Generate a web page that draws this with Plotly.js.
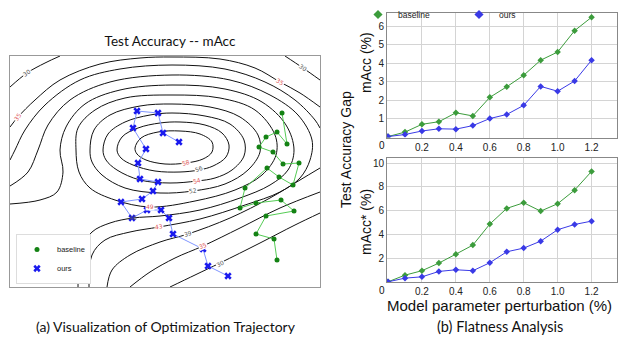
<!DOCTYPE html>
<html><head><meta charset="utf-8">
<script src="https://cdn.plot.ly/plotly-3.0.1.min.js"></script>
<style>html,body{margin:0;padding:0;background:#fff;overflow:hidden;width:621px;height:347px}#chart{width:621px;height:347px;overflow:hidden}</style>
</head><body><div id="chart"></div>
<script>
// ---------------- (b) Flatness analysis data ----------------
const perturbation = [0, 0.1, 0.2, 0.3, 0.4, 0.5, 0.6, 0.7, 0.8, 0.9, 1.0, 1.1, 1.2];
const mAccBaseline = [0.05, 0.29, 0.71, 0.85, 1.33, 1.16, 2.16, 2.73, 3.35, 4.16, 4.6, 5.75, 6.47];
const mAccOurs     = [0.05, 0.16, 0.35, 0.47, 0.45, 0.64, 1.02, 1.24, 1.73, 2.75, 2.49, 3.04, 4.16];
const mAccStarBaseline = [0.04, 0.6, 0.97, 1.61, 2.36, 3.12, 4.88, 6.2, 6.67, 5.97, 6.59, 7.73, 9.3];
const mAccStarOurs     = [0.04, 0.35, 0.46, 0.91, 1.05, 0.97, 1.64, 2.56, 2.87, 3.45, 4.41, 4.85, 5.13];
const xTicks = [0.2, 0.4, 0.6, 0.8, 1.0, 1.2];
const xTickText = ['0.2', '0.4', '0.6', '0.8', '1.0', '1.2'];
const yTicksTop = [1, 2, 3, 4, 5, 6];
const yTicksBottom = [2, 4, 6, 8, 10];

// ---------------- (a) Landscape: contour lines (plot units) ----------------
const contour58 = [[135,148],[141,138],[158,132],[180,131],[200,134],[212,142],[212,152],[203,159],[186,163],[165,164],[146,160],[137,154],[135,148]];
const contour56 = [[117,150],[122,137],[138,128],[160,123],[180,122],[205,125],[222,133],[229,145],[226,157],[213,166],[199,170],[180,172],[155,171],[133,165],[121,158],[117,150]];
const contour54 = [[103,150],[108,134],[125,122],[150,115],[172,113],[205,116],[230,124],[244,140],[244,156],[232,170],[215,178],[197,181],[170,183],[140,180],[117,170],[106,160],[103,150]];
const contour52 = [[90,150],[94,130],[110,115],[140,106],[172,104],[210,107],[240,117],[258,135],[260,152],[248,170],[225,184],[193,191],[160,193],[125,188],[102,175],[92,162],[90,150]];
const contour49 = [[76,150],[78,128],[95,110],[125,98],[172,95],[220,98],[255,110],[275,135],[276,155],[262,175],[235,190],[195,201],[150,207],[115,200],[90,188],[79,172],[76,150]];
const contour46 = [[10,204],[40,200],[57,192],[63,172],[60,150],[66,127],[85,104],[120,90],[172,85],[225,89],[262,102],[286,125],[294,150],[288,170],[270,185],[240,198],[200,210],[160,216],[133,218],[110,223],[92,232],[81,250],[78,287]];
const contour43 = [[10,186],[28,172],[38,150],[48,125],[70,100],[110,82],[172,75],[230,80],[270,95],[298,115],[312,140],[310,160],[300,178],[280,192],[245,205],[200,219],[159,227],[130,232],[105,240],[92,255],[89,287]];
const contour39Top = [[10,160],[15,150],[25,130],[45,105],[80,80],[120,69],[172,65],[225,69],[265,82],[295,100],[315,120],[320,128]];
const contour39Bottom = [[320,168],[300,180],[270,198],[230,218],[188,234],[160,242],[130,255],[112,270],[107,287]];
const contour35Top = [[10,127],[18,117],[35,100],[60,80],[100,64],[140,58],[172,57],[220,59],[255,68],[280,82],[300,93],[320,107]];
const contour35Bottom = [[320,192],[280,208],[240,228],[203,246],[175,258],[150,272],[130,287]];
const contour30Left = [[10,87],[27,73],[45,63],[60,56]];
const contour30Right = [[285,56],[303,68],[320,80]];
const contour30Bottom = [[320,213],[295,225],[260,243],[220,263],[195,275],[170,287]];
const contourLines = [contour58, contour56, contour54, contour52, contour49, contour46, contour43,
  contour39Top, contour39Bottom, contour35Top, contour35Bottom, contour30Left, contour30Right, contour30Bottom];

const contourLabelText  = ['30', '35', '30', '35', '58', '56', '54', '52', '49', '46', '43', '39', '35', '30'];
const contourLabelX     = [27, 18, 303, 280, 186, 199, 197, 193, 150, 133, 159, 188, 203, 220];
const contourLabelY     = [73, 117, 68, 82, 163, 169, 181, 191, 207, 218, 227, 234, 246, 263];
const contourLabelAngle = [-35, -55, 35, 30, -15, -20, -15, -8, 0, 0, -8, -15, -22, -25];
const redLevels = ['58', '54', '49', '43', '35'];

// optimisation trajectories (plot units)
const oursTrajX = [228, 208, 203, 173, 169, 161, 147, 132, 121, 142, 153, 158, 140, 138, 146, 133, 137, 158, 163, 179];
const oursTrajY = [276, 266, 249, 234, 218, 210, 210, 218, 202, 199, 191, 182, 179, 163, 149, 128, 111, 113, 133, 142];
const baselineTrajX = [277, 274, 256, 266, 294, 281, 256, 240, 245, 267, 279, 293, 299, 283, 273, 259, 266, 277, 287, 282];
const baselineTrajY = [260, 239, 234, 216, 211, 200, 203, 208, 188, 168, 177, 185, 163, 164, 152, 147, 137, 132, 144, 113];

// ---------------- layout helpers ----------------
const W = 621, H = 347;
const fx = p => p / W;
const fy = p => 1 - p / H;

const traces = [];
contourLines.forEach(pts => {
  traces.push({
    type: 'scatter', mode: 'lines', xaxis: 'x', yaxis: 'y',
    x: pts.map(p => p[0]), y: pts.map(p => p[1]),
    line: {color: '#111', width: 1, shape: 'spline', smoothing: 1},
    hoverinfo: 'skip', showlegend: false
  });
});
// trajectories
traces.push({type: 'scatter', mode: 'lines', xaxis: 'x', yaxis: 'y', x: baselineTrajX, y: baselineTrajY,
  line: {color: '#55cc55', width: 1}, showlegend: false, hoverinfo: 'skip'});
traces.push({type: 'scatter', mode: 'lines', xaxis: 'x', yaxis: 'y', x: oursTrajX, y: oursTrajY,
  line: {color: '#7f95ff', width: 1}, showlegend: false, hoverinfo: 'skip'});
traces.push({type: 'scatter', mode: 'markers', name: 'baseline', xaxis: 'x', yaxis: 'y', x: baselineTrajX, y: baselineTrajY,
  marker: {symbol: 'circle', size: 5, color: '#148214'}, legend: 'legend'});
traces.push({type: 'scatter', mode: 'markers', name: 'ours', xaxis: 'x', yaxis: 'y', x: oursTrajX, y: oursTrajY,
  marker: {symbol: 'x', size: 6.5, color: '#1a1aee'}, legend: 'legend'});

// right panels
const green = '#3c9c3c', blue = '#3a3ae6';
[['x2','y2',mAccBaseline,mAccOurs],['x3','y3',mAccStarBaseline,mAccStarOurs]].forEach((s, i) => {
  traces.push({type:'scatter', mode:'lines+markers', xaxis:s[0], yaxis:s[1], x: perturbation, y: s[2],
    line:{color: green, width: 1}, marker:{symbol:'diamond', size:5, color: green}, showlegend:false});
  traces.push({type:'scatter', mode:'lines+markers', xaxis:s[0], yaxis:s[1], x: perturbation, y: s[3],
    line:{color: blue, width: 1}, marker:{symbol:'diamond', size:5, color: blue}, showlegend:false});
});
traces.push({type:'scatter', mode:'markers', name:'baseline', x:[null], y:[null], xaxis:'x2', yaxis:'y2',
  marker:{symbol:'diamond', size:7, color: green}, legend:'legend2'});
traces.push({type:'scatter', mode:'markers', name:'ours', x:[null], y:[null], xaxis:'x2', yaxis:'y2',
  marker:{symbol:'diamond', size:7, color: blue}, legend:'legend2'});

const annotations = contourLabelText.map((t, i) => ({
  xref: 'x', yref: 'y', x: contourLabelX[i], y: contourLabelY[i], text: t, showarrow: false,
  textangle: contourLabelAngle[i], font: {size: 6, color: redLevels.includes(t) ? '#e05a5a' : '#555', family: 'DejaVu Sans'},
  bgcolor: t === '46' ? 'rgba(0,0,0,0)' : '#fff', borderpad: 0
}));
const sans = 'Liberation Sans, Arial, sans-serif';
const txt = (x, y, text, size, extra) => Object.assign({xref:'paper', yref:'paper', x: fx(x), y: fy(y), text, showarrow:false,
  xanchor:'center', yanchor:'middle', font:{size, color:'#111', family: sans}}, extra || {});
annotations.push(txt(366, 62, 'mAcc (%)', 14, {textangle: -90}));
annotations.push(txt(366, 222, 'mAcc* (%)', 14, {textangle: -90}));
annotations.push(txt(346, 150, 'Test Accuracy Gap', 14, {textangle: -90}));
annotations.push(txt(499, 305, 'Model parameter perturbation (%)', 15));
annotations.push(txt(382, 145, '0', 10));
annotations.push(txt(382, 290, '0', 10));
annotations.push(txt(166, 326, '(a) Visualization of Optimization Trajectory', 14, {font:{size:14, color:'#111', family:'Lato'}}));
annotations.push(txt(500, 326, '(b) Flatness Analysis', 14.5, {font:{size:14.5, color:'#111', family:'Lato'}}));

const frame = {showline: true, mirror: true, linecolor: '#999', linewidth: 1, zeroline: false, automargin: false};
const rightAxis = Object.assign({}, frame, {linecolor: '#888', gridcolor: '#d4d4d4', gridwidth: 1, ticks: '',
  tickfont: {size: 10, color: '#222', family: sans}});

const layout = {
  width: W, height: H, margin: {l: 0, r: 0, t: 0, b: 0}, autosize: false,
  paper_bgcolor: '#fff', plot_bgcolor: '#fff',
  title: {text: 'Test Accuracy -- mAcc', x: fx(170), y: fy(41), xanchor: 'center', yanchor: 'middle', xref: 'paper', yref: 'paper',
    font: {size: 13.5, color: '#111', family: 'Lato'}},
  xaxis: Object.assign({}, frame, {domain: [fx(10), fx(320)], range: [10, 320], showticklabels: false, showgrid: false, ticks: ''}),
  yaxis: Object.assign({}, frame, {domain: [fy(287), fy(56)], range: [287, 56], showticklabels: false, showgrid: false, ticks: ''}),
  xaxis2: Object.assign({}, rightAxis, {domain: [fx(387), fx(617)], range: [-0.006, 1.35], tickvals: xTicks, ticktext: xTickText, anchor: 'y2'}),
  yaxis2: Object.assign({}, rightAxis, {domain: [fy(137.5), fy(13)], range: [0, 6.7], tickvals: yTicksTop, anchor: 'x2'}),
  xaxis3: Object.assign({}, rightAxis, {domain: [fx(387), fx(617)], range: [-0.006, 1.35], tickvals: xTicks, ticktext: xTickText, anchor: 'y3'}),
  yaxis3: Object.assign({}, rightAxis, {domain: [fy(282.3), fy(158.3)], range: [0, 10.4], tickvals: yTicksBottom, anchor: 'x3'}),
  legend: {x: fx(16), y: fy(234), xanchor: 'left', yanchor: 'top', bgcolor: '#fff', bordercolor: '#ddd', borderwidth: 1,
    font: {size: 7.5, color: '#222', family: sans}, itemwidth: 30},
  legend2: {x: fx(358), y: fy(0), xanchor: 'left', yanchor: 'top', orientation: 'h', bgcolor: 'rgba(0,0,0,0)',
    entrywidth: 56, entrywidthmode: 'pixels',
    font: {size: 8.5, color: '#222', family: sans}},
  annotations: annotations,
  showlegend: true
};
Plotly.newPlot('chart', traces, layout, {staticPlot: true, displayModeBar: false});
</script></body></html>
